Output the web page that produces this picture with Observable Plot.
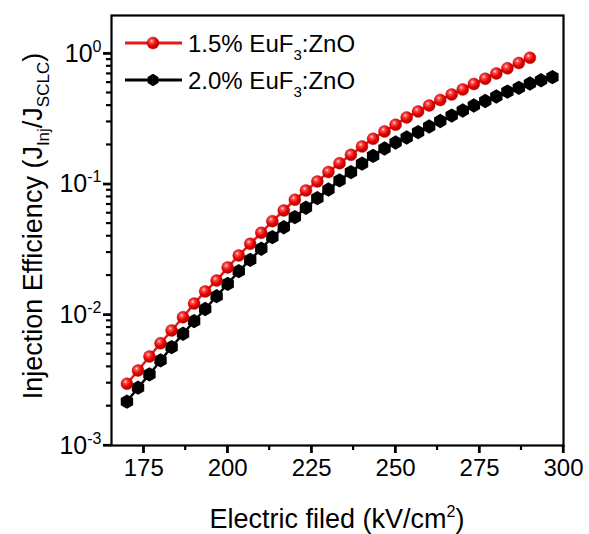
<!DOCTYPE html>
<html><head><meta charset="utf-8">
<script src="https://cdn.jsdelivr.net/npm/d3@7"></script>
<script src="https://cdn.jsdelivr.net/npm/@observablehq/plot@0.6"></script>
<style>
body{margin:0;background:#fff;}
#wrap{position:relative;width:589px;height:534px;}
</style></head><body><div id="wrap"></div>
<script>
// Electric field (kV/cm²) and injection efficiency J_Inj/J_SCLC
const fieldRed = [170,173.3,176.7,180,183.3,186.7,190,193.3,196.7,200,203.3,206.7,210,213.3,216.7,220,223.3,226.7,230,233.3,236.7,240,243.3,246.7,250,253.3,256.7,260,263.3,266.7,270,273.3,276.7,280,283.3,286.7,290];
const effRed = [0.00297,0.00375,0.0048,0.00607,0.0076,0.0096,0.0122,0.0151,0.0183,0.0231,0.0285,0.0350,0.0425,0.0522,0.0630,0.0761,0.0896,0.105,0.124,0.145,0.168,0.195,0.223,0.254,0.286,0.325,0.361,0.401,0.442,0.487,0.532,0.586,0.643,0.706,0.773,0.849,0.930];
const fieldBlack = [170,173.3,176.7,180,183.3,186.7,190,193.3,196.7,200,203.3,206.7,210,213.3,216.7,220,223.3,226.7,230,233.3,236.7,240,243.3,246.7,250,253.3,256.7,260,263.3,266.7,270,273.3,276.7,280,283.3,286.7,290,293.3,296.7];
const effBlack = [0.00217,0.00277,0.00350,0.00448,0.00566,0.00717,0.00895,0.0111,0.0139,0.0173,0.0216,0.0264,0.0321,0.0394,0.0469,0.0560,0.0661,0.0783,0.0912,0.107,0.124,0.144,0.165,0.188,0.209,0.228,0.251,0.277,0.305,0.336,0.367,0.401,0.434,0.470,0.512,0.548,0.591,0.626,0.661];
const seriesLabels = [["1.5% EuF","3",":ZnO"],["2.0% EuF","3",":ZnO"]];
const seriesColors = ["#e41a1a","#000000"];
const xTicks = [175,200,225,250,275,300];
const xMinor = [187.5,212.5,237.5,262.5,287.5];
const yTicks = [1e-3,1e-2,1e-1,1];
const yMinor = [0.002,0.003,0.004,0.005,0.006,0.007,0.008,0.009,0.02,0.03,0.04,0.05,0.06,0.07,0.08,0.09,0.2,0.3,0.4,0.5,0.6,0.7,0.8,0.9];
const xTitle = ["Electric filed (kV/cm","2",")"];
const yTitle = ["Injection Efficiency (J","Inj","/J","SCLC",")"];

const red = fieldRed.map((x,i)=>({x, y: effRed[i]}));
const black = fieldBlack.map((x,i)=>({x, y: effBlack[i]}));

const FONT = "Liberation Sans, Arial, Helvetica, sans-serif";
const xDomain = [165.4, 300];
const yDomain = [1e-3, 1.96];
const chart = Plot.plot({
  width: 589, height: 534,
  marginLeft: 111, marginRight: 26, marginTop: 15, marginBottom: 89,
  style: {fontFamily: FONT, fontSize: "24px", color: "black", background: "white", overflow: "visible"},
  x: {domain: xDomain},
  y: {type: "log", domain: yDomain},
  marks: [
    Plot.axisX({ticks: xTicks, tickSize: 8, tickPadding: 5, strokeWidth: 2.2, label: null, tickFormat: d => String(d)}),
    Plot.axisY({ticks: yTicks, tickSize: 8, tickPadding: 2, strokeWidth: 2.2, label: null, fontSize: 25, tickFormat: d => "e" + String(Math.round(Math.log10(d)))}),
    Plot.line(black, {x: "x", y: "y", stroke: seriesColors[1], strokeWidth: 2.5}),
    Plot.line(red, {x: "x", y: "y", stroke: seriesColors[0], strokeWidth: 2.5}),
    Plot.dot(black, {x: "x", y: "y", symbol: "hexagon", r: 6.2, fill: "black"}),
    Plot.dot(red, {x: "x", y: "y", r: 6, fill: "url(#redball)", stroke: "#b00000", strokeWidth: 0.4}),
    Plot.frame({stroke: "black", strokeWidth: 2.2})
  ]
});
document.getElementById("wrap").appendChild(chart);

const svg = d3.select(chart);
// gradient for red spheres
const defs = svg.append("defs");
const g = defs.append("radialGradient").attr("id", "redball").attr("cx", "0.4").attr("cy", "0.38").attr("r", "0.65").attr("fx","0.38").attr("fy","0.33");
g.append("stop").attr("offset", "0%").attr("stop-color", "#ffe0e0");
g.append("stop").attr("offset", "22%").attr("stop-color", "#ff5050");
g.append("stop").attr("offset", "60%").attr("stop-color", "#e80000");
g.append("stop").attr("offset", "100%").attr("stop-color", "#b00000");

// explicit tick marks placed with the plot's own scales
const sx = chart.scale("x"), sy = chart.scale("y");
const x0 = sx.apply(xDomain[0]), y0 = sy.apply(yDomain[0]);
const tg = svg.append("g").attr("stroke", "black").attr("stroke-width", 2.2).attr("fill", "none");
xTicks.forEach(v => tg.append("line").attr("x1", sx.apply(v)).attr("x2", sx.apply(v)).attr("y1", y0).attr("y2", y0 + 8));
xMinor.forEach(v => tg.append("line").attr("x1", sx.apply(v)).attr("x2", sx.apply(v)).attr("y1", y0).attr("y2", y0 + 5));
yTicks.forEach(v => tg.append("line").attr("y1", sy.apply(v)).attr("y2", sy.apply(v)).attr("x1", x0).attr("x2", x0 - 8));
yMinor.forEach(v => tg.append("line").attr("y1", sy.apply(v)).attr("y2", sy.apply(v)).attr("x1", x0).attr("x2", x0 - 5));

// superscript exponents on y tick labels
svg.selectAll('text').each(function() {
  const t = d3.select(this);
  const s = t.text();
  if (/^e-?\d+$/.test(s)) {
    t.text("10");
    t.append("tspan").attr("dy", "-10").attr("font-size", "16").text(s.slice(1));
  }
});

// axis titles
const xt = svg.append("text").attr("x", 337).attr("y", 528).attr("text-anchor", "middle")
  .attr("font-family", FONT).attr("font-size", 27).attr("fill", "black");
xt.append("tspan").text(xTitle[0]);
xt.append("tspan").attr("dy", -11).attr("font-size", 16).text(xTitle[1]);
xt.append("tspan").attr("dy", 11).text(xTitle[2]);

const yt = svg.append("text").attr("transform", "translate(42,226) rotate(-90)").attr("text-anchor", "middle")
  .attr("font-family", FONT).attr("font-size", 27).attr("fill", "black");
yt.append("tspan").text(yTitle[0]);
yt.append("tspan").attr("dy", 7).attr("font-size", 17).text(yTitle[1]);
yt.append("tspan").attr("dy", -7).text(yTitle[2]);
yt.append("tspan").attr("dy", 7).attr("font-size", 17).text(yTitle[3]);
yt.append("tspan").attr("dy", -7).text(yTitle[4]);

// legend
const hex = (cx, cy, r) => d3.range(6).map(i => {
  const a = Math.PI / 3 * i + Math.PI / 6;
  return [cx + r * Math.cos(a), cy + r * Math.sin(a)];
});
seriesLabels.forEach((lab, i) => {
  const cy = 43 + i * 37;
  const lg = svg.append("g");
  lg.append("line").attr("x1", 125).attr("x2", 182).attr("y1", cy).attr("y2", cy)
    .attr("stroke", seriesColors[i]).attr("stroke-width", 3);
  if (i === 0) {
    lg.append("circle").attr("cx", 153).attr("cy", cy).attr("r", 6).attr("fill", "url(#redball)").attr("stroke", "#b00000").attr("stroke-width", 0.4);
  } else {
    lg.append("polygon").attr("points", hex(153, cy, 6.2).map(p => p.join(",")).join(" ")).attr("fill", "black");
  }
  const tx = lg.append("text").attr("x", 188).attr("y", cy + 8.5).attr("text-anchor", "start")
    .attr("font-family", FONT).attr("font-size", 24).attr("fill", "black");
  tx.append("tspan").text(lab[0]);
  tx.append("tspan").attr("dy", 8).attr("font-size", 15).text(lab[1]);
  tx.append("tspan").attr("dy", -8).text(lab[2]);
});
</script>
</body></html>
